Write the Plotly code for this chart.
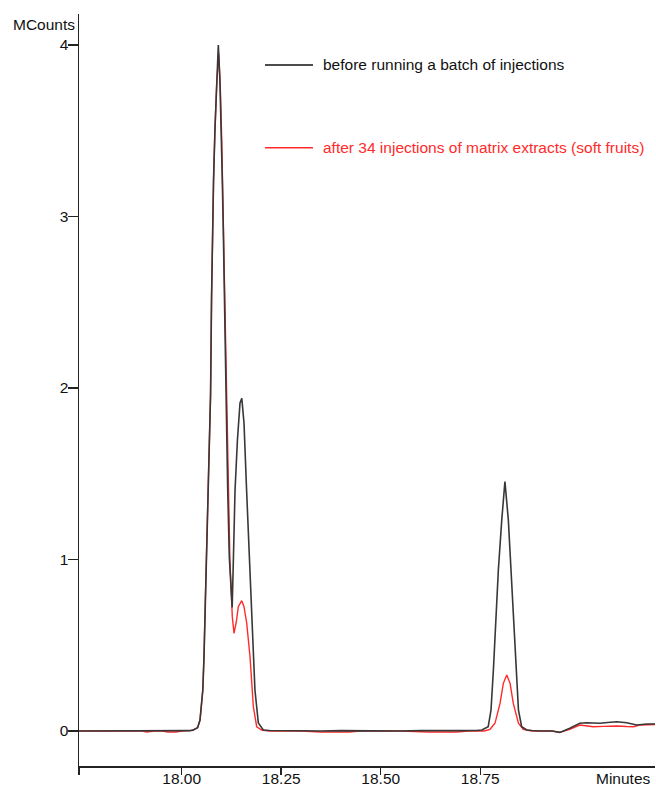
import plotly.graph_objects as go

# Retention time (minutes) and signal (MCounts)
black_x = [17.742, 17.80, 17.85, 17.90, 17.95, 17.98, 18.00, 18.02, 18.028, 18.040,
           18.046, 18.053, 18.056, 18.060, 18.067, 18.0725, 18.075, 18.0775, 18.080, 18.0835,
           18.088, 18.092, 18.096, 18.0995, 18.102, 18.1045, 18.107, 18.1095, 18.111, 18.1156,
           18.1196, 18.1256, 18.1268, 18.130, 18.134, 18.140, 18.1465, 18.151, 18.1565, 18.163,
           18.170, 18.176, 18.184, 18.1925, 18.205, 18.22, 18.25, 18.30, 18.35, 18.40,
           18.45, 18.50, 18.55, 18.60, 18.65, 18.70, 18.74, 18.754, 18.770, 18.777,
           18.783, 18.789, 18.7955, 18.804, 18.812, 18.8206, 18.827, 18.833, 18.840, 18.846,
           18.854, 18.867, 18.88, 18.90, 18.93, 18.950, 18.975, 19.0, 19.0176, 19.034,
           19.051, 19.07, 19.093, 19.118, 19.143, 19.168, 19.189]
black_y = [0.0, 0.0, 0.0, 0.0, 0.0, 0.0, 0.0, 0.002, 0.005, 0.02,
           0.064, 0.239, 0.431, 0.822, 1.405, 1.96, 2.531, 2.921, 3.213, 3.504,
           3.796, 4.0, 3.796, 3.504, 3.213, 2.921, 2.531, 2.143, 1.948, 1.405,
           1.015, 0.746, 0.72, 1.016, 1.405, 1.697, 1.913, 1.94, 1.796, 1.405,
           1.016, 0.630, 0.239, 0.047, 0.006, 0.003, 0.002, 0.002, 0.0, 0.002,
           0.0, 0.002, 0.0, 0.002, 0.0, 0.002, 0.003, 0.006, 0.025, 0.122,
           0.356, 0.647, 0.939, 1.230, 1.454, 1.230, 0.939, 0.647, 0.356, 0.122,
           0.025, 0.006, 0.003, 0.0, 0.0, -0.008, 0.016, 0.045, 0.048, 0.046,
           0.045, 0.05, 0.054, 0.048, 0.035, 0.041, 0.041]

red_x = [17.742, 17.80, 17.85, 17.90, 17.913, 17.93, 17.95, 17.966, 17.985, 18.00,
         18.02, 18.028, 18.040, 18.046, 18.053, 18.056, 18.060, 18.067, 18.0725, 18.075,
         18.0775, 18.080, 18.0835, 18.088, 18.093, 18.097, 18.1005, 18.103, 18.1055, 18.108,
         18.1105, 18.112, 18.1166, 18.121, 18.1271, 18.1314, 18.1375, 18.1422, 18.1508, 18.1565,
         18.1633, 18.1716, 18.18, 18.1884, 18.201, 18.22, 18.25, 18.30, 18.35, 18.38,
         18.42, 18.45, 18.50, 18.55, 18.62, 18.66, 18.69, 18.72, 18.76, 18.7746,
         18.787, 18.7997, 18.808, 18.8166, 18.825, 18.833, 18.846, 18.858, 18.88, 18.90,
         18.93, 18.950, 18.975, 19.0, 19.034, 19.06, 19.093, 19.118, 19.135, 19.15,
         19.168, 19.189]
red_y = [0.0, 0.0, 0.0, 0.0, -0.006, 0.0, 0.0, -0.006, -0.006, 0.0,
         0.002, 0.005, 0.02, 0.064, 0.239, 0.431, 0.822, 1.405, 1.96, 2.531,
         2.921, 3.213, 3.504, 3.78, 3.95, 3.75, 3.45, 3.15, 2.85, 2.45,
         2.1, 1.9, 1.38, 1.0, 0.667, 0.569, 0.64, 0.725, 0.76, 0.725,
         0.63, 0.433, 0.142, 0.025, 0.006, 0.0, 0.0, 0.0, -0.006, -0.006,
         -0.006, 0.0, 0.0, 0.0, -0.006, -0.006, -0.006, 0.0, 0.0, 0.01,
         0.045, 0.161, 0.278, 0.327, 0.278, 0.161, 0.045, 0.01, 0.0, 0.0,
         0.0, -0.008, 0.01, 0.035, 0.025, 0.027, 0.029, 0.026, 0.025, 0.035,
         0.037, 0.038]

x_tick_vals = [17.7425, 18.00, 18.25, 18.50, 18.75]
x_tick_text = ["", "18.00", "18.25", "18.50", "18.75"]
y_tick_vals = [0, 1, 2, 3, 4]
y_tick_text = ["0", "1", "2", "3", "4"]

legend_labels = ["before running a batch of injections",
                 "after 34 injections of matrix extracts (soft fruits)"]

BLACK = "#383838"
RED = "#ff2a2a"
FONT = "Liberation Sans, Arial, sans-serif"

fig = go.Figure()
fig.add_trace(go.Scatter(x=red_x, y=red_y, mode="lines",
                         line=dict(color=RED, width=1.4), hoverinfo="skip"))
fig.add_trace(go.Scatter(x=black_x, y=black_y, mode="lines",
                         line=dict(color=BLACK, width=1.6), hoverinfo="skip"))

# Legend drawn as line samples + text (as in the original)
legend_rows = [(0.9322, "#111111", "#111111"), (0.8222, RED, RED)]
for (yp, lc, tc), label in zip(legend_rows, legend_labels):
    fig.add_shape(type="line", xref="paper", yref="paper",
                  x0=0.3229, x1=0.40625, y0=yp, y1=yp,
                  line=dict(color=lc, width=1.5))
    fig.add_annotation(xref="paper", yref="paper", x=0.4201, y=yp,
                       xanchor="left", yanchor="middle", showarrow=False,
                       text=label, font=dict(family=FONT, size=15.5, color=tc))

fig.add_annotation(xref="paper", yref="paper", x=0, y=0.9867, xshift=-2,
                   xanchor="right", yanchor="middle", showarrow=False,
                   text="MCounts", font=dict(family=FONT, size=15.5, color="#111111"))
fig.add_annotation(xref="paper", yref="paper", x=0.9965, y=-0.016,
                   xanchor="right", yanchor="middle", showarrow=False,
                   text="Minutes", font=dict(family=FONT, size=15.5, color="#111111"))

fig.update_layout(
    width=656, height=788,
    margin=dict(l=79, r=1, t=14, b=22),
    paper_bgcolor="white", plot_bgcolor="white",
    showlegend=False,
    font=dict(family=FONT, size=15.5, color="#111111"),
    hovermode=False,
)
fig.update_xaxes(range=[17.742, 19.189], tickvals=x_tick_vals, ticktext=x_tick_text,
                 ticks="outside", ticklen=7, tickwidth=1.5, tickcolor="#222222",
                 showline=True, linecolor="#222222", linewidth=1.5,
                 showgrid=False, zeroline=False, automargin=False,
                 ticklabelstandoff=-9)
fig.update_yaxes(range=[-0.204, 4.181], tickvals=y_tick_vals, ticktext=y_tick_text,
                 ticks="outside", ticklen=10, tickwidth=1.5, tickcolor="#222222",
                 showline=True, linecolor="#222222", linewidth=1.5,
                 showgrid=False, zeroline=False, automargin=False,
                 ticklabelstandoff=-4)

# remove the browser's default body margin so the figure sits at the page origin
fig.write_html("out.html",
               config={"displayModeBar": False, "staticPlot": True},
               post_script="document.body.style.margin='0';document.body.style.overflow='hidden';")
